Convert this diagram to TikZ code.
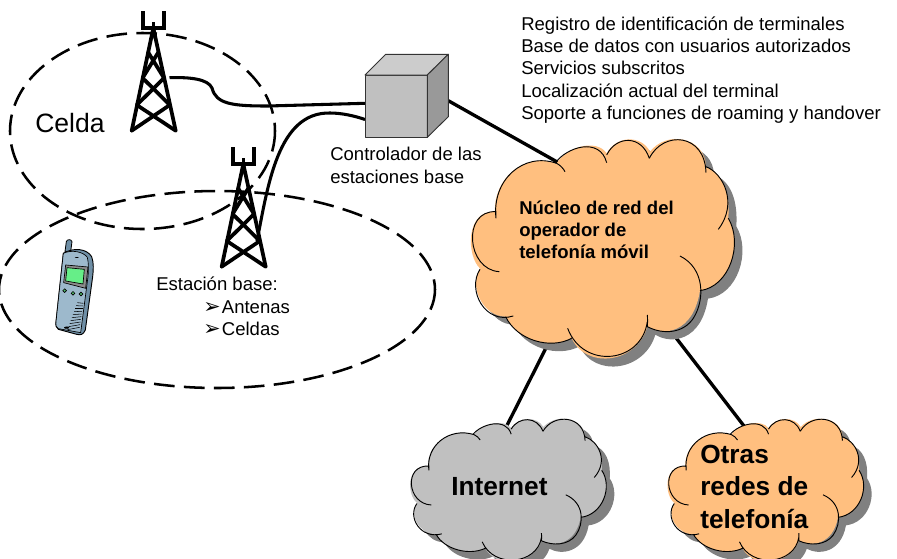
\documentclass[tikz,border=0pt]{standalone}
\usepackage{fontspec}
\setmainfont{Liberation Sans}
\newfontfamily\dejavu{DejaVu Sans}
\definecolor{cloudorange}{HTML}{FFBF7F}
\definecolor{cloudgray}{HTML}{C0C0C0}
\definecolor{cloudshadow}{HTML}{808080}
\definecolor{phonebody}{HTML}{9DB9CC}
\definecolor{phonedark}{HTML}{6F8FA6}
\definecolor{phonescreen}{HTML}{66EE88}
\tikzset{
  cell/.style={line width=1.9pt,dash pattern=on 15.5pt off 7pt},
  link/.style={line width=2.5pt},
  wire/.style={line width=2.3pt},
  lattice/.style={line width=2.8pt,line cap=round,line join=round},
  lobe/.style={line width=.7pt},
  txt/.style={inner sep=0pt,anchor=base west,align=left},
  listtxt/.style={font=\fontsize{13.9pt}{16.7pt}\selectfont},
  smalltxt/.style={font=\fontsize{13.9pt}{16.9pt}\selectfont},
  tower/.pic={
    \draw[lattice] (131.7,130.7)--(153.3,28)--(175.7,130.7);
    \draw[lattice] (148,52)--(164,78) (158.5,52)--(142.6,78)
      (142.6,78)--(169.8,105) (164,78)--(136.8,105)
      (136.8,105)--(175.7,130.7) (169.8,105)--(131.7,130.7);
    \draw[lattice,line cap=butt,line join=miter] (143.3,11)--(143.3,28)--(164,28)--(164,11) (153.5,22)--(153.5,30);
  }
}
\newcommand{\cloudfill}{%
  (105,245) .. controls (100,150) and (190,65) .. (290,100)
  .. controls (320,50) and (410,25) .. (440,70)
  .. controls (470,15) and (545,15) .. (570,65)
  .. controls (620,0) and (735,20) .. (738,110)
  .. controls (790,130) and (810,190) .. (805,265)
  .. controls (850,340) and (810,470) .. (720,482)
  .. controls (700,610) and (610,620) .. (562,590)
  .. controls (530,700) and (380,720) .. (335,625)
  .. controls (270,660) and (170,630) .. (137,560)
  .. controls (70,560) and (25,470) .. (60,415)
  .. controls (20,380) and (15,240) .. (105,245) -- cycle}
\newcommand{\cloudlobes}{%
  (108,265) .. controls (95,150) and (190,65) .. (290,100) .. controls (300,105) and (310,115) .. (315,125)
  (285,100) .. controls (320,50) and (420,20) .. (440,98)
  (440,75) .. controls (470,15) and (545,15) .. (568,85)
  (568,85) .. controls (610,0) and (735,10) .. (738,128)
  (738,110) .. controls (790,130) and (835,220) .. (775,298)
  (805,265) .. controls (850,340) and (810,470) .. (720,482)
  (660,378) .. controls (735,415) and (735,510) .. (700,565) .. controls (670,610) and (610,615) .. (562,590) .. controls (563,580) and (563,565) .. (562,555)
  (562,575) .. controls (545,700) and (370,720) .. (323,595)
  (335,625) .. controls (270,660) and (170,630) .. (137,560)
  (160,558) .. controls (75,585) and (20,480) .. (60,418)
  (118,425) .. controls (20,420) and (5,240) .. (108,245) -- (108,265)}
\newcommand{\cloudat}[5]{%
  \begin{scope}[shift={(#1+8,#2+8)},xscale=#3,yscale=#4]
    \fill[cloudshadow] \cloudfill;
  \end{scope}
  \begin{scope}[shift={(#1,#2)},xscale=#3,yscale=#4]
    \fill[#5] \cloudfill;
    \draw[lobe] \cloudlobes;
  \end{scope}}
\begin{document}
\begin{tikzpicture}[x=.75pt,y=-.75pt]
\useasboundingbox (0,0) rectangle (897,558);
\clip (0,0) rectangle (897,558);

\coordinate (towerAout) at (169.5,77.7);
\coordinate (towerBout) at (257,241);
\coordinate (ctrlW) at (365,103.3);
\coordinate (ctrlSW) at (365,119.5);
\coordinate (ctrlE) at (448.3,100.7);
\coordinate (coreNW) at (575,172);
\coordinate (coreSW) at (550,340);
\coordinate (coreSE) at (670,330);
\coordinate (inetN) at (506.7,426);
\coordinate (otrasN) at (744,426);

% cells
\draw[cell] (142.5,131) ellipse [x radius=132.5,y radius=98];
\draw[cell] (217,289.5) ellipse [x radius=218,y radius=98.5];

% towers
\pic at (0,0) {tower};
\pic at (90,136) {tower};

% connectors
\draw[wire] (towerAout) .. controls (190,77) and (208,79) .. (212,88)
  .. controls (216,104) and (232,106) .. (268,106) -- (ctrlW);
\draw[wire] (towerBout) .. controls (268,185) and (278,112) .. (330,113)
  .. controls (342,113) and (355,116) .. (ctrlSW);
\draw[link] (ctrlE) -- (coreNW);
\draw[link] (coreSW) -- (inetN);
\draw[link] (coreSE) -- (otrasN);

% cube
\draw[line width=.7pt,draw=black!80,fill=cloudgray,line join=round] (365,75) rectangle (427.3,137.3);
\draw[line width=.7pt,draw=black!80,fill=black!20,line join=round] (365,75)--(385.7,54.3)--(448.3,54.3)--(427.3,75)--cycle;
\draw[line width=.7pt,draw=black!80,fill=black!40,line join=round] (427.3,75)--(448.3,54.3)--(448.3,116.7)--(427.3,137.3)--cycle;

% clouds
\cloudat{460}{130}{.3333}{.3333}{cloudorange}
\cloudat{402.07}{412.9}{.248}{.2167}{cloudgray}
\cloudat{659.4}{412.9}{.248}{.2167}{cloudorange}

% phone
\begin{scope}[shift={(30,140)},scale=.3333]
  \draw[fill=phonedark,line width=.6pt] (105,335) -- (109,305) .. controls (111,297) and (124,297) .. (126,305) -- (122,335) -- cycle;
  \draw[fill=phonedark,line width=.7pt] (100,340) .. controls (130,322) and (170,325) .. (185,350)
    .. controls (192,370) and (190,390) .. (188,410) -- (166,570)
    .. controls (160,585) and (150,586) .. (140,583) -- (85,568)
    .. controls (78,565) and (77,555) .. (78,545) -- cycle;
  \draw[fill=phonebody,line width=.5pt] (100,340) .. controls (125,328) and (160,335) .. (172,352)
    .. controls (176,370) and (176,385) .. (174,410) -- (152,578) -- (85,566)
    .. controls (78,563) and (77,555) .. (78,545) -- cycle;
  \draw[fill=black!45,line width=.5pt] (107,375)--(174,381)--(167,445)--(101,428)--cycle;
  \draw[fill=phonescreen,line width=.5pt] (111,383)--(163,388)--(159,432)--(107,423)--cycle;
  \foreach \p in {(104,452),(129,460),(153,462)}
    \draw[fill=phonescreen!80!black,line width=.5pt] \p circle [radius=5.5];
  \foreach \i in {0,...,9}
    \draw[line width=.4pt] (160-\i*1.2,490+\i*8) -- (142-\i*3.3,490+\i*8-2+\i*1);
  \draw[fill=black,line width=.3pt] (110,563) ellipse [x radius=7,y radius=2.5];
  \draw[line width=.5pt] (135,352) -- (146,353);
\end{scope}

% labels
\node[txt,listtxt] (funcs) at (521,119.3) {Registro de identificación de terminales\\Base de datos con usuarios autorizados\\Servicios subscritos\\Localización actual del terminal\\Soporte a funciones de roaming y handover};
\node[txt,font=\fontsize{19.9pt}{22pt}\selectfont] (celda) at (35,132) {Celda};
\node[txt,smalltxt] (ctrl) at (330,183) {Controlador de las\\estaciones base};
\node[txt,smalltxt] (bs) at (156,290) {Estación base:};
\node[txt,smalltxt] (ant) at (203,313) {{\dejavu\fontsize{15.5pt}{13pt}\selectfont ➢}\hspace{1pt}Antenas};
\node[txt,smalltxt] (cel) at (203,335) {{\dejavu\fontsize{15.5pt}{13pt}\selectfont ➢}\hspace{1pt}Celdas};
\node[txt,font=\bfseries\fontsize{13.9pt}{16.2pt}\selectfont] (core) at (519,258) {Núcleo de red del\\operador de\\telefonía móvil};
\node[txt,font=\bfseries\fontsize{19.7pt}{24pt}\selectfont] (inet) at (451,495) {Internet};
\node[txt,font=\bfseries\fontsize{19.7pt}{24.2pt}\selectfont] (otras) at (700,528) {Otras\\redes de\\telefonía};
\end{tikzpicture}
\end{document}
